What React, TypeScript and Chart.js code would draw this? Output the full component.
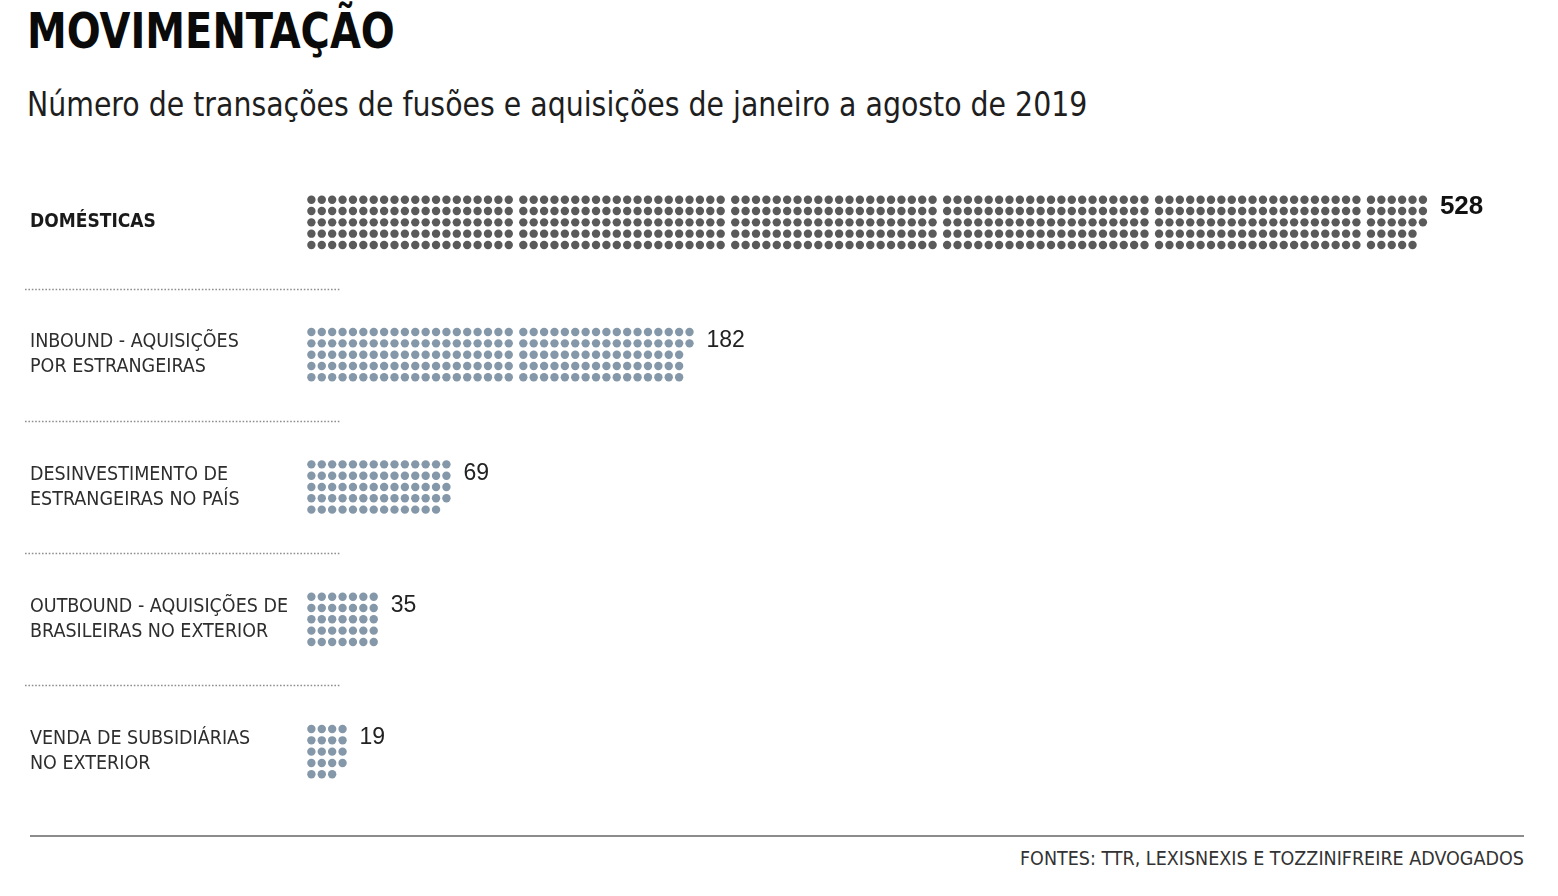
import React, { useEffect, useLayoutEffect, useRef } from "react";
import { Chart, registerables } from "chart.js";

Chart.register(...registerables);

const TITLE = "MOVIMENTAÇÃO";
const SUBTITLE = "Número de transações de fusões e aquisições de janeiro a agosto de 2019";
const SOURCE = "FONTES: TTR, LEXISNEXIS E TOZZINIFREIRE ADVOGADOS";

const CATEGORY_LABELS: string[][] = [
  ["DOMÉSTICAS"],
  ["INBOUND - AQUISIÇÕES", "POR ESTRANGEIRAS"],
  ["DESINVESTIMENTO DE", "ESTRANGEIRAS NO PAÍS"],
  ["OUTBOUND - AQUISIÇÕES DE", "BRASILEIRAS NO EXTERIOR"],
  ["VENDA DE SUBSIDIÁRIAS", "NO EXTERIOR"],
];
const VALUES = [528, 182, 69, 35, 19];
const DOT_COLORS = ["#5a5a5a", "#8598a9", "#8598a9", "#8598a9", "#8598a9"];

const DOTS_PER_COLUMN = 5;
const COLUMNS_PER_GROUP = 20;
const GROUP_GAP = 0.4; // extra column units between groups of 20 columns
const ROW_STEP = 0.0855; // category units between dot rows

const COND = '"DejaVu Sans Condensed", "DejaVu Sans", sans-serif';
const NUM_FONT = '"Liberation Sans", Arial, sans-serif';

function colToX(col: number) {
  return col + Math.floor(col / COLUMNS_PER_GROUP) * GROUP_GAP;
}

function buildDots(value: number, cat: number) {
  const pts: { x: number; y: number }[] = [];
  for (let i = 0; i < value; i++) {
    const col = Math.floor(i / DOTS_PER_COLUMN);
    const row = i % DOTS_PER_COLUMN;
    pts.push({ x: colToX(col), y: cat + (row - 2) * ROW_STEP });
  }
  return pts;
}

const decorPlugin = {
  id: "decor",
  beforeDraw(chart: any) {
    const ctx: any = chart.ctx;
    ctx.letterSpacing = "0px";
    try {
      ctx.fontStretch = "condensed";
    } catch (e) {}
  },
  afterDraw(chart: any) {
    const ctx = chart.ctx as CanvasRenderingContext2D;
    const xs = chart.scales.x;
    const ys = chart.scales.y;
    ctx.save();
    // dotted separators
    ctx.strokeStyle = "#8f8f8f";
    ctx.lineWidth = 1.6;
    ctx.setLineDash([1.6, 1.8]);
    for (let c = 0; c < VALUES.length - 1; c++) {
      const y = Math.round((ys.getPixelForValue(c) + ys.getPixelForValue(c + 1)) / 2) + 0.5;
      ctx.beginPath();
      ctx.moveTo(25, y);
      ctx.lineTo(341, y);
      ctx.stroke();
    }
    ctx.setLineDash([]);
    // value labels
    VALUES.forEach((v, c) => {
      const lastCol = Math.floor((v - 1) / DOTS_PER_COLUMN);
      const px = xs.getPixelForValue(colToX(lastCol)) + 17;
      const py = ys.getPixelForValue(c - (c === 0 ? 1.4 : 1.2) * ROW_STEP);
      (ctx as any).fontStretch = "normal";
      ctx.font = c === 0 ? "bold 26px " + NUM_FONT : "23px " + NUM_FONT;
      ctx.fillStyle = c === 0 ? "#111" : "#222";
      ctx.textAlign = "left";
      ctx.textBaseline = "middle";
      ctx.fillText(String(v), px, py);
    });
    ctx.restore();
  },
};

function FitText(props: {
  text: string;
  width: number;
  left?: number;
  right?: number;
  top: number;
  style: React.CSSProperties;
}) {
  const ref = useRef<HTMLDivElement | null>(null);
  useLayoutEffect(() => {
    const el = ref.current;
    if (!el) return;
    const w = el.offsetWidth;
    if (w > 0) el.style.transform = `scaleX(${props.width / w})`;
  }, []);
  return (
    <div
      ref={ref}
      style={{
        position: "absolute",
        left: props.left,
        right: props.right,
        top: props.top,
        whiteSpace: "nowrap",
        lineHeight: 1,
        transformOrigin: props.right !== undefined ? "right top" : "left top",
        ...props.style,
      }}
    >
      {props.text}
    </div>
  );
}

export default function App() {
  const ref = useRef<HTMLCanvasElement | null>(null);

  useEffect(() => {
    if (!ref.current) return;
    const chart = new Chart(ref.current, {
      type: "scatter",
      data: {
        datasets: VALUES.map((v, c) => ({
          label: CATEGORY_LABELS[c].join(" "),
          data: buildDots(v, c),
          backgroundColor: DOT_COLORS[c],
          borderWidth: 0,
          pointRadius: 4.2,
          pointHoverRadius: 4.2,
        })),
      },
      options: {
        animation: false,
        responsive: false,
        maintainAspectRatio: false,
        layout: { padding: { left: 30, right: 0, top: 0, bottom: 0 } },
        plugins: {
          legend: { display: false },
          tooltip: { enabled: false },
          title: { display: false },
        },
        scales: {
          x: {
            type: "linear",
            display: false,
            min: -1,
            max: 119.6,
          },
          y: {
            type: "linear",
            reverse: true,
            min: -0.5,
            max: 4.5,
            grid: { display: false },
            border: { display: false },
            afterFit(scale: any) {
              scale.width = 271;
              scale.paddingTop = 0;
              scale.paddingBottom = 0;
            },
            afterBuildTicks(scale: any) {
              scale.ticks = CATEGORY_LABELS.map((_, i) => ({ value: i }));
            },
            ticks: {
              autoSkip: false,
              crossAlign: "far",
              color: (ctx: any) => (ctx.index === 0 ? "#1a1a1a" : "#2e2e2e"),
              font: (ctx: any) =>
                ctx.index === 0
                  ? { family: COND, size: 19, weight: "bold", lineHeight: 1.3 }
                  : { family: COND, size: 19.5, weight: "normal", lineHeight: 1.28 },
              callback: (value: any) => CATEGORY_LABELS[value as number],
            },
          },
        },
      } as any,
      plugins: [decorPlugin],
    });
    return () => chart.destroy();
  }, []);

  return (
    <div
      style={{
        position: "absolute",
        left: 0,
        top: 0,
        width: 1558,
        height: 896,
        background: "#fff",
        overflow: "hidden",
      }}
    >
      <FitText
        text={TITLE}
        left={27}
        top={7}
        width={368}
        style={{
          fontFamily: COND,
          fontStretch: "condensed",
          fontWeight: "bold",
          fontSize: 49,
          color: "#0a0a0a",
        }}
      />
      <FitText
        text={SUBTITLE}
        left={27}
        top={87}
        width={1060}
        style={{
          fontFamily: COND,
          fontStretch: "condensed",
          fontSize: 34,
          color: "#1e1e1e",
        }}
      />
      <canvas
        ref={ref}
        width={1558}
        height={670}
        style={{ position: "absolute", left: 0, top: 152, width: 1558, height: 670 }}
      />
      <div
        style={{
          position: "absolute",
          left: 30,
          top: 835,
          width: 1494,
          height: 0,
          borderTop: "2px solid #8c8c8c",
        }}
      />
      <FitText
        text={SOURCE}
        right={34}
        top={849}
        width={504}
        style={{
          fontFamily: COND,
          fontStretch: "condensed",
          fontSize: 19,
          color: "#333",
        }}
      />
    </div>
  );
}
